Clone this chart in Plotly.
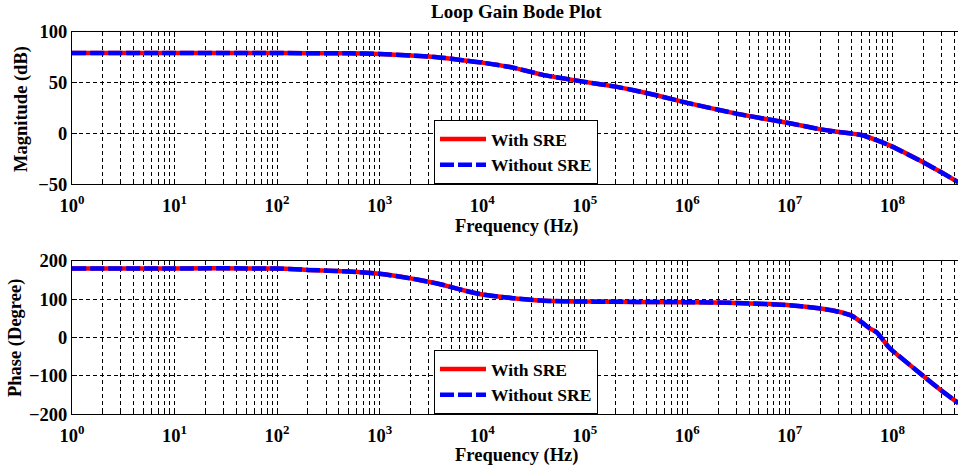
import plotly.graph_objects as go

# ---------------- data ----------------
freq_mag = [1, 10, 100, 500, 1e3, 2e3, 3e3, 4e3, 5e3, 7e3, 1e4, 2e4, 4e4, 1e5,
            2e5, 3e5, 5e5, 1e6, 3e6, 1e7, 2e7, 3e7, 5e7, 8e7, 1e8, 2e8, 3e8, 4.4e8]
mag_db = [79, 79, 79, 78.7, 78.2, 76.5, 75.5, 74.5, 73.5, 71.5, 69.6, 64.7, 57.3, 50.7,
          46, 42.5, 37.5, 30, 19.5, 10, 4, 1.5, -1.5, -8.8, -13, -28.4, -38.2, -48]

freq_phase = [1, 10, 50, 100, 150, 200, 500, 1e3, 2e3, 3e3, 4e3, 5e3, 7e3, 1e4, 1.5e4,
              2e4, 4e4, 1e5, 1e6, 3e6, 1e7, 2e7, 3e7, 4e7, 5e7, 6e7, 7e7, 8e7, 9e7,
              1e8, 2e8, 3e8, 4.4e8]
phase_deg = [180, 180, 180, 179.5, 178, 176, 172, 166, 154, 145, 138, 131, 121, 112, 106,
             102.5, 96, 93.5, 92, 90, 84, 75.5, 67, 57, 40, 24, 14, -4, -22,
             -34, -100, -138, -171]

series_names = ["With SRE", "Without SRE"]
x_tick_vals = [10 ** k for k in range(9)]
x_tick_text = ["10<sup>%d</sup>" % k for k in range(9)]
x_minor_vals = [m * 10 ** k for k in range(9) for m in range(2, 10) if m * 10 ** k < 4.4e8]
mag_ticks = [-50, 0, 50, 100]
phase_ticks = [-200, -100, 0, 100, 200]

title_text = "Loop Gain Bode Plot"
x_title = "Frequency (Hz)"
mag_title = "Magnitude (dB)"
phase_title = "Phase (Degree)"

# ---------------- styling ----------------
FONT = "Liberation Serif"
FS = 18.5
W, H = 958, 467
L = 72
X_DECADES = 8.64


def py(pix):
    return 1 - pix / H


def px(pix):
    return (pix - L) / (W - L)


fig = go.Figure()

for xa, ya, lg, fx, fy in [("x", "y", "legend", freq_mag, mag_db),
                           ("x2", "y2", "legend2", freq_phase, phase_deg)]:
    fig.add_trace(go.Scatter(x=fx, y=fy, mode="lines", name=series_names[0],
                             line=dict(color="#ff0000", width=4.5, shape="spline", smoothing=0.4),
                             xaxis=xa, yaxis=ya, legend=lg))
    fig.add_trace(go.Scatter(x=fx, y=fy, mode="lines", name=series_names[1],
                             line=dict(color="#0000ff", width=4.5, dash="14px,4px",
                                       shape="spline", smoothing=0.4),
                             xaxis=xa, yaxis=ya, legend=lg))

tickfont = dict(family=FONT, size=FS, color="black", weight="bold")


def xaxis_cfg():
    return dict(type="log", range=[0, X_DECADES], domain=[0, 1],
                tickmode="array", tickvals=x_tick_vals, ticktext=x_tick_text,
                ticks="inside", ticklen=5, tickcolor="black", ticklabelstandoff=4,
                showline=True, linecolor="black", linewidth=1, mirror="ticks",
                showgrid=True, gridcolor="#000000", griddash="4px,3px", gridwidth=1,
                minor=dict(tickmode="array", tickvals=x_minor_vals, ticks="inside",
                           ticklen=3, tickcolor="black", showgrid=True,
                           gridcolor="#000000", griddash="4px,3px", gridwidth=1),
                tickfont=tickfont, zeroline=False, automargin=False)


def yaxis_cfg(rng, vals, dom, anchor):
    return dict(range=rng, domain=dom, anchor=anchor, tickmode="array", tickvals=vals,
                ticks="inside", ticklen=5, tickcolor="black",
                showline=True, linecolor="black", linewidth=1, mirror=False,
                showgrid=True, gridcolor="#000000", griddash="4px,3px", gridwidth=1,
                tickfont=tickfont, zeroline=False, automargin=False)


top_dom = [py(184.3), py(31.7)]
bot_dom = [py(414.3), py(260.7)]

legend_cfg = dict(xanchor="left", yanchor="top", bgcolor="white",
                  bordercolor="black", borderwidth=1,
                  font=dict(family=FONT, size=17.5, color="black", weight="bold"),
                  tracegroupgap=0, itemwidth=46)

fig.update_layout(
    width=W, height=H,
    margin=dict(l=L, r=0, t=0, b=0, autoexpand=False),
    paper_bgcolor="white", plot_bgcolor="white",
    xaxis=dict(xaxis_cfg(), anchor="y"),
    xaxis2=dict(xaxis_cfg(), anchor="y2"),
    yaxis=yaxis_cfg([-50, 100], mag_ticks, top_dom, "x"),
    yaxis2=yaxis_cfg([-200, 200], phase_ticks, bot_dom, "x2"),
    legend=dict(legend_cfg, x=px(434), y=py(120)),
    legend2=dict(legend_cfg, x=px(434), y=py(350)),
    showlegend=True,
)

ann_font = dict(family=FONT, size=FS, color="black", weight="bold")
annotations = [
    dict(text=title_text, x=px(516.5), y=py(12), xref="paper", yref="paper",
         xanchor="center", yanchor="middle", showarrow=False,
         font=dict(ann_font, size=19)),
    dict(text=x_title, x=px(516), y=py(226), xref="paper", yref="paper",
         xanchor="center", yanchor="middle", showarrow=False, font=ann_font),
    dict(text=x_title, x=px(516), y=py(455), xref="paper", yref="paper",
         xanchor="center", yanchor="middle", showarrow=False, font=ann_font),
    dict(text=mag_title, x=px(21), y=py(109), xref="paper", yref="paper",
         xanchor="center", yanchor="middle", showarrow=False, textangle=-90, font=ann_font),
    dict(text=phase_title, x=px(15), y=py(338), xref="paper", yref="paper",
         xanchor="center", yanchor="middle", showarrow=False, textangle=-90, font=ann_font),
]
fig.update_layout(annotations=annotations)

fig.write_html("out.html")
